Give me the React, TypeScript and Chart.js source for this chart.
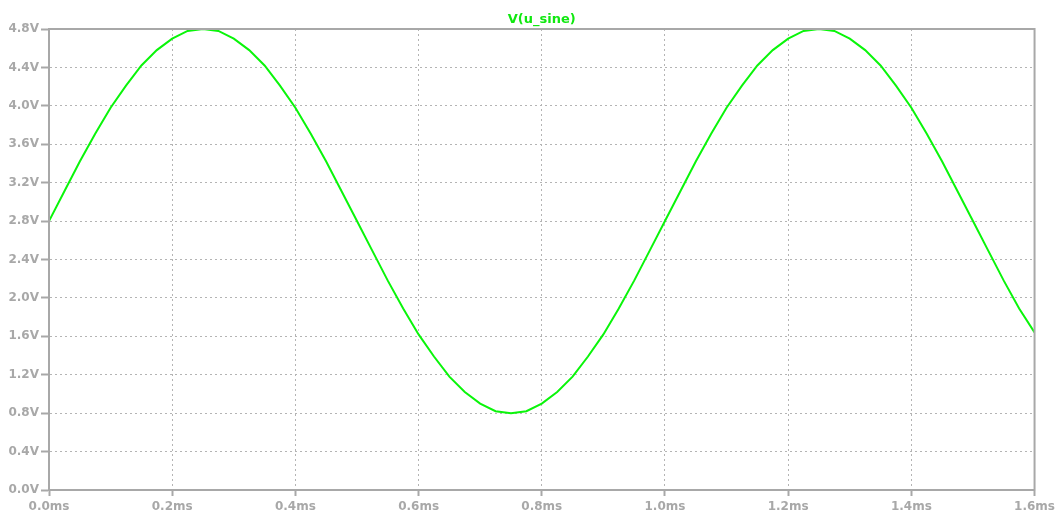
import React, { useEffect, useRef } from "react";
import { Chart, registerables } from "chart.js";

Chart.register(...registerables);

const timeMs: number[] = [
  0.0, 0.025, 0.05, 0.075, 0.1, 0.125, 0.15, 0.175, 0.2, 0.225,
  0.25, 0.275, 0.3, 0.325, 0.35, 0.375, 0.4, 0.425, 0.45, 0.475,
  0.5, 0.525, 0.55, 0.575, 0.6, 0.625, 0.65, 0.675, 0.7, 0.725,
  0.75, 0.775, 0.8, 0.825, 0.85, 0.875, 0.9, 0.925, 0.95, 0.975,
  1.0, 1.025, 1.05, 1.075, 1.1, 1.125, 1.15, 1.175, 1.2, 1.225,
  1.25, 1.275, 1.3, 1.325, 1.35, 1.375, 1.4, 1.425, 1.45, 1.475,
  1.5, 1.525, 1.55, 1.575, 1.6,
];

const voltage: number[] = [
  2.8, 3.11, 3.42, 3.71, 3.98, 4.21, 4.42, 4.58, 4.7, 4.78,
  4.8, 4.78, 4.7, 4.58, 4.42, 4.21, 3.98, 3.71, 3.42, 3.11,
  2.8, 2.49, 2.18, 1.89, 1.62, 1.39, 1.18, 1.02, 0.9, 0.82,
  0.8, 0.82, 0.9, 1.02, 1.18, 1.39, 1.62, 1.89, 2.18, 2.49,
  2.8, 3.11, 3.42, 3.71, 3.98, 4.21, 4.42, 4.58, 4.7, 4.78,
  4.8, 4.78, 4.7, 4.58, 4.42, 4.21, 3.98, 3.71, 3.42, 3.11,
  2.8, 2.49, 2.18, 1.89, 1.64,
];

const traceName = "V(u_sine)";
const xTickStep = 0.2;
const yTickStep = 0.4;

const AXIS_GRAY = "#a8a8a8";
const GRID_GRAY = "#b4b4b4";
const TRACE_GREEN = "#0af50a";

export default function App() {
  const canvasRef = useRef<HTMLCanvasElement | null>(null);

  useEffect(() => {
    document.body.style.margin = "0";
    const canvas = canvasRef.current;
    if (!canvas) return;

    const framePlugin = {
      id: "frameAndTitle",
      afterDraw(chart: any) {
        const { ctx, chartArea } = chart;
        ctx.save();
        ctx.strokeStyle = AXIS_GRAY;
        ctx.lineWidth = 2;
        ctx.setLineDash([]);
        ctx.strokeRect(
          chartArea.left,
          chartArea.top,
          chartArea.right - chartArea.left,
          chartArea.bottom - chartArea.top
        );
        ctx.fillStyle = "#10e810";
        ctx.font = "bold 13px 'DejaVu Sans'";
        ctx.textAlign = "center";
        ctx.textBaseline = "middle";
        ctx.fillText(traceName, (chartArea.left + chartArea.right) / 2, chartArea.top - 9);
        ctx.restore();
      },
    };

    const chart = new Chart(canvas, {
      type: "line",
      data: {
        datasets: [
          {
            label: traceName,
            data: timeMs.map((t, i) => ({ x: t, y: voltage[i] })),
            borderColor: TRACE_GREEN,
            borderWidth: 2,
            pointRadius: 0,
            tension: 0,
            fill: false,
          },
        ],
      },
      options: {
        animation: false,
        responsive: false,
        maintainAspectRatio: false,
        layout: { padding: { top: 29, right: 24, left: 0, bottom: 0 } },
        plugins: {
          legend: { display: false },
          title: { display: false },
          tooltip: { enabled: false },
        },
        scales: {
          x: {
            type: "linear",
            min: 0,
            max: 1.6,
            afterFit: (s: any) => {
              s.height = 24;
            },
            ticks: {
              stepSize: xTickStep,
              color: AXIS_GRAY,
              font: { family: "'DejaVu Sans'", size: 12, weight: "bold" },
              padding: 4,
              maxRotation: 0,
              autoSkip: false,
              callback: (v: any) => `${Number(v).toFixed(1)}ms`,
            },
            grid: {
              color: GRID_GRAY,
              lineWidth: 1,
              tickBorderDash: [],
              tickColor: AXIS_GRAY,
              tickWidth: 2,
              tickLength: 6,
            },
            border: { display: true, color: AXIS_GRAY, width: 2, dash: [2, 3] },
          },
          y: {
            type: "linear",
            min: 0,
            max: 4.8,
            afterFit: (s: any) => {
              s.width = 49;
            },
            ticks: {
              stepSize: yTickStep,
              color: AXIS_GRAY,
              font: { family: "'DejaVu Sans'", size: 12, weight: "bold" },
              padding: 2,
              callback: (v: any) => `${Number(v).toFixed(1)}V`,
            },
            grid: {
              color: GRID_GRAY,
              lineWidth: 1,
              tickBorderDash: [],
              tickColor: AXIS_GRAY,
              tickWidth: 2,
              tickLength: 8,
            },
            border: { display: true, color: AXIS_GRAY, width: 2, dash: [2, 3] },
          },
        },
      },
      plugins: [framePlugin],
    });

    return () => {
      chart.destroy();
    };
  }, []);

  return (
    <div style={{ position: "absolute", left: 0, top: 0, width: 1059, height: 514, background: "#ffffff" }}>
      <canvas ref={canvasRef} width={1059} height={514} />
    </div>
  );
}
